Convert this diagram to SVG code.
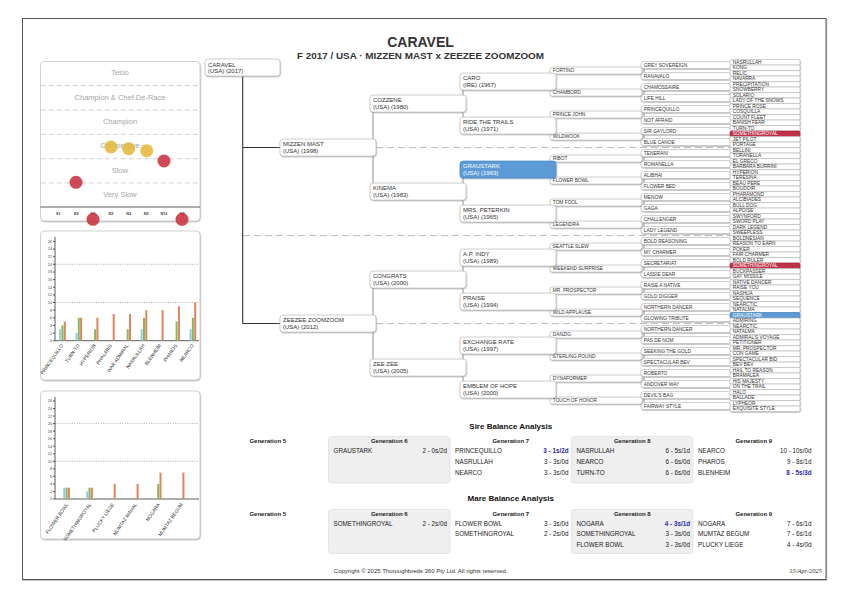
<svg xmlns="http://www.w3.org/2000/svg" width="841" height="595" viewBox="0 0 841 595">
<style>
text{font-family:"Liberation Sans",Arial,Helvetica,sans-serif;fill:#333}
.bx{fill:#fff;stroke:#bcbcbc;stroke-width:.7;filter:url(#ds)}
.red{fill:#c0304a;stroke:#a82840}
.blu{fill:#5b9bd5;stroke:#4a8ac4}
.wt{fill:#fff}
.t1{font-size:6px}
.t6{font-size:4.8px}
.conD{fill:none;stroke:#333;stroke-width:1.1}
.conG{fill:none;stroke:#999;stroke-width:1.1}
.dash{fill:none;stroke:#aaa;stroke-width:.8;stroke-dasharray:7 4}
.panel{fill:#efefef;stroke:#dcdcdc;stroke-width:.7}
.cbox{fill:#fff;stroke:#c8c8c8;stroke-width:.8;filter:url(#ds)}
.rt{font-size:7.5px;fill:#a6a6a6;text-anchor:middle}
.gl{fill:none;stroke:#bbb;stroke-width:.7;stroke-dasharray:4.5 3.5}
.ax{fill:none;stroke:#333;stroke-width:.8}
.dot{fill:none;stroke:#888;stroke-width:.6;stroke-dasharray:1.2 1.2}
.tk{font-size:3.8px;fill:#444;text-anchor:end}
.xl{font-size:3.8px;fill:#444;text-anchor:middle;font-weight:bold}
.bl{font-size:4.8px;fill:#333;text-anchor:end}
.bB{fill:#8ecbe6}
.bG{fill:#8ab565}
.bO{fill:#e0845a}
.h{font-size:6px;font-weight:bold;text-anchor:middle;fill:#222}
.r{font-size:6.3px;fill:#222}
.v{font-size:6.3px;fill:#222;text-anchor:end}
.vb{font-size:6.3px;fill:#2a2aa8;text-anchor:end;font-weight:bold}
.st{font-size:8px;font-weight:bold;text-anchor:middle;fill:#111}
</style>
<defs>
<filter id="ds" x="-10%" y="-30%" width="120%" height="170%">
<feDropShadow dx="0.5" dy="0.8" stdDeviation="0.4" flood-color="#777" flood-opacity="0.55"/>
</filter>
</defs>
<rect width="841" height="595" fill="#fff"/>
<rect x="22.5" y="18.5" width="803.5" height="561" fill="#fff" stroke="#555" stroke-width="1" filter="url(#ds)"/>

<g id="title">
<text x="420.5" y="46.5" text-anchor="middle" font-size="14" font-weight="bold" fill="#111">CARAVEL</text>
<text x="420.5" y="58.5" text-anchor="middle" font-size="9.9" font-weight="bold" fill="#111">F 2017 / USA · MIZZEN MAST x ZEEZEE ZOOMZOOM</text>
</g>

<!-- Chart 1: rating -->
<g id="chart-rating">
<rect class="cbox" x="40.5" y="61.5" width="159.5" height="159.5" rx="4"/>
<text class="rt" x="120" y="74.7">Tesio</text>
<text class="rt" x="120" y="100.4">Champion &amp; Chef De-Race</text>
<text class="rt" x="120" y="124.3">Champion</text>
<text class="rt" x="120" y="148">Competitive</text>
<text class="rt" x="120" y="172.7">Slow</text>
<text class="rt" x="120" y="196.7">Very Slow</text>
<path class="gl" d="M41 85.7H200M41 110H200M41 134.3H200M41 158.7H200M41 182.9H200"/>
<path class="ax" d="M40.5 207H200"/>
<text class="xl" x="58.3" y="215">S1</text>
<text class="xl" x="76.3" y="215">E9</text>
<text class="xl" x="93.3" y="215">N1</text>
<text class="xl" x="111" y="215">N2</text>
<text class="xl" x="128.7" y="215">N3</text>
<text class="xl" x="146.3" y="215">N5</text>
<text class="xl" x="164" y="215">N12</text>
<text class="xl" x="182.3" y="215">N4</text>
<g fill-opacity="0.88">
<circle cx="76" cy="182.3" r="6.5" fill="#c8303f"/>
<circle cx="111" cy="147" r="6.5" fill="#e6b83b"/>
<circle cx="128.7" cy="148.7" r="6.5" fill="#e6b83b"/>
<circle cx="146.7" cy="150.7" r="6.5" fill="#e6b83b"/>
<circle cx="164" cy="161" r="6.5" fill="#c8303f"/>
<circle cx="93" cy="219.3" r="6.5" fill="#c8303f"/>
<circle cx="182" cy="219.3" r="6.5" fill="#c8303f"/>
</g>
</g>

<!-- Chart 2: sire bars -->
<g id="chart-sires">
<rect class="cbox" x="40.5" y="231" width="159.5" height="149" rx="4"/>
<path class="dot" d="M55 264.3H199M55 302.5H199"/>
<path class="ax" d="M55 237V340.7H199M53 340.7H55M53 333.06H55M53 325.42H55M53 317.78H55M53 310.14H55M53 302.5H55M53 294.86H55M53 287.22H55M53 279.58H55M53 271.94H55M53 264.3H55M53 256.66H55M53 249.02H55M53 241.38H55"/>
<text class="tk" x="52" y="342.1">0</text>
<text class="tk" x="52" y="334.5">2</text>
<text class="tk" x="52" y="326.8">4</text>
<text class="tk" x="52" y="319.2">6</text>
<text class="tk" x="52" y="311.5">8</text>
<text class="tk" x="52" y="303.9">10</text>
<text class="tk" x="52" y="296.3">12</text>
<text class="tk" x="52" y="288.6">14</text>
<text class="tk" x="52" y="281">16</text>
<text class="tk" x="52" y="273.3">18</text>
<text class="tk" x="52" y="265.7">20</text>
<text class="tk" x="52" y="258.1">22</text>
<text class="tk" x="52" y="250.4">24</text>
<text class="tk" x="52" y="242.8">26</text>
<rect class="bB" x="59.2" y="329.24" width="2" height="11.46"/>
<rect class="bG" x="61.5" y="325.42" width="2" height="15.28"/>
<rect class="bO" x="63.8" y="321.6" width="2" height="19.1"/>
<rect class="bB" x="75.5" y="333.06" width="2" height="7.64"/>
<rect class="bG" x="77.8" y="317.78" width="2" height="22.92"/>
<rect class="bO" x="80.1" y="317.78" width="2" height="22.92"/>
<rect class="bG" x="94.1" y="329.24" width="2" height="11.46"/>
<rect class="bO" x="96.4" y="317.78" width="2" height="22.92"/>
<rect class="bO" x="112.7" y="313.96" width="2" height="26.74"/>
<rect class="bG" x="126.7" y="329.24" width="2" height="11.46"/>
<rect class="bO" x="129" y="313.96" width="2" height="26.74"/>
<rect class="bB" x="140.7" y="329.24" width="2" height="11.46"/>
<rect class="bG" x="143" y="317.78" width="2" height="22.92"/>
<rect class="bO" x="145.3" y="310.14" width="2" height="30.56"/>
<rect class="bO" x="161.6" y="310.14" width="2" height="30.56"/>
<rect class="bG" x="175.6" y="321.6" width="2" height="19.1"/>
<rect class="bO" x="177.9" y="306.32" width="2" height="34.38"/>
<rect class="bB" x="189.6" y="329.24" width="2" height="11.46"/>
<rect class="bG" x="191.9" y="317.78" width="2" height="22.92"/>
<rect class="bO" x="194.2" y="302.5" width="2" height="38.2"/>
<text class="bl" transform="translate(63.5,345.5) rotate(-55)">PRINCEQUILLO</text>
<text class="bl" transform="translate(79.8,345.5) rotate(-55)">TURN-TO</text>
<text class="bl" transform="translate(96.1,345.5) rotate(-55)">HYPERION</text>
<text class="bl" transform="translate(112.4,345.5) rotate(-55)">PHALARIS</text>
<text class="bl" transform="translate(128.7,345.5) rotate(-55)">WAR ADMIRAL</text>
<text class="bl" transform="translate(145,345.5) rotate(-55)">NASRULLAH</text>
<text class="bl" transform="translate(161.3,345.5) rotate(-55)">BLENHEIM</text>
<text class="bl" transform="translate(177.6,345.5) rotate(-55)">PHAROS</text>
<text class="bl" transform="translate(193.9,345.5) rotate(-55)">NEARCO</text>
</g>

<!-- Chart 3: mare bars -->
<g id="chart-mares">
<rect class="cbox" x="40.5" y="391" width="159.5" height="148" rx="4"/>
<path class="dot" d="M55 423.6H199M55 461.3H199"/>
<path class="ax" d="M55 397V499H199M53 499H55M53 491.46H55M53 483.92H55M53 476.38H55M53 468.84H55M53 461.3H55M53 453.76H55M53 446.22H55M53 438.68H55M53 431.14H55M53 423.6H55M53 416.06H55M53 408.52H55M53 400.98H55"/>
<text class="tk" x="52" y="500.4">0</text>
<text class="tk" x="52" y="492.9">2</text>
<text class="tk" x="52" y="485.3">4</text>
<text class="tk" x="52" y="477.8">6</text>
<text class="tk" x="52" y="470.2">8</text>
<text class="tk" x="52" y="462.7">10</text>
<text class="tk" x="52" y="455.2">12</text>
<text class="tk" x="52" y="447.6">14</text>
<text class="tk" x="52" y="440.1">16</text>
<text class="tk" x="52" y="432.5">18</text>
<text class="tk" x="52" y="425">20</text>
<text class="tk" x="52" y="417.5">22</text>
<text class="tk" x="52" y="409.9">24</text>
<text class="tk" x="52" y="402.4">26</text>
<rect class="bB" x="63.3" y="487.69" width="2" height="11.31"/>
<rect class="bG" x="65.6" y="487.69" width="2" height="11.31"/>
<rect class="bO" x="67.9" y="487.69" width="2" height="11.31"/>
<rect class="bB" x="86.2" y="491.46" width="2" height="7.54"/>
<rect class="bG" x="88.5" y="487.69" width="2" height="11.31"/>
<rect class="bO" x="90.8" y="487.69" width="2" height="11.31"/>
<rect class="bO" x="113.7" y="483.92" width="2" height="15.08"/>
<rect class="bO" x="136.6" y="483.92" width="2" height="15.08"/>
<rect class="bG" x="157.2" y="483.92" width="2" height="15.08"/>
<rect class="bO" x="159.5" y="472.61" width="2" height="26.39"/>
<rect class="bO" x="182.4" y="472.61" width="2" height="26.39"/>
<text class="bl" transform="translate(68.6,504.5) rotate(-55)">FLOWER BOWL</text>
<text class="bl" transform="translate(91.5,504.5) rotate(-55)">SOMETHINGROYAL</text>
<text class="bl" transform="translate(114.4,504.5) rotate(-55)">PLUCKY LIEGE</text>
<text class="bl" transform="translate(137.3,504.5) rotate(-55)">MUMTAZ MAHAL</text>
<text class="bl" transform="translate(160.2,504.5) rotate(-55)">NOGARA</text>
<text class="bl" transform="translate(183.1,504.5) rotate(-55)">MUMTAZ BEGUM</text>
</g>

<!-- Connectors -->
<g id="connectors">
<path class="dash" d="M376 147.55H730M243 235.55H730M376 323.55H730"/>
<path class="conD" d="M242.7 76V323.55M242.7 147.55H280M242.7 323.55H280"/>
<path class="conG" d="M373 112.05V183.05M373 288.05V359.05M463 90.05V117.05M463 178.05V205.05M463 266.05V293.05M463 354.05V381.05M553 74.05V89.05M553 118.05V133.05M553 162.05V177.05M553 206.05V221.05M553 250.05V265.05M553 294.05V309.05M553 338.05V353.05M553 382.05V397.05"/>
<path class="conG" d="M644 68.55V72.55M644 90.55V94.55M644 112.55V116.55M644 134.55V138.55M644 156.55V160.55M644 178.55V182.55M644 200.55V204.55M644 222.55V226.55M644 244.55V248.55M644 266.55V270.55M644 288.55V292.55M644 310.55V314.55M644 332.55V336.55M644 354.55V358.55M644 376.55V380.55M644 398.55V402.55"/>
</g>

<!-- Generation 5 -->
<g id="gen5">
<g id="g5-0" transform="translate(641,61.55)"><rect class="bx" width="90" height="7" rx="2.5"/><text class="t6" x="2.8" y="5.2">GREY SOVEREIGN</text></g>
<g id="g5-1" transform="translate(641,72.55)"><rect class="bx" width="90" height="7" rx="2.5"/><text class="t6" x="2.8" y="5.2">RANAVALO</text></g>
<g id="g5-2" transform="translate(641,83.55)"><rect class="bx" width="90" height="7" rx="2.5"/><text class="t6" x="2.8" y="5.2">CHAMOSSAIRE</text></g>
<g id="g5-3" transform="translate(641,94.55)"><rect class="bx" width="90" height="7" rx="2.5"/><text class="t6" x="2.8" y="5.2">LIFE HILL</text></g>
<g id="g5-4" transform="translate(641,105.55)"><rect class="bx" width="90" height="7" rx="2.5"/><text class="t6" x="2.8" y="5.2">PRINCEQUILLO</text></g>
<g id="g5-5" transform="translate(641,116.55)"><rect class="bx" width="90" height="7" rx="2.5"/><text class="t6" x="2.8" y="5.2">NOT AFRAID</text></g>
<g id="g5-6" transform="translate(641,127.55)"><rect class="bx" width="90" height="7" rx="2.5"/><text class="t6" x="2.8" y="5.2">SIR GAYLORD</text></g>
<g id="g5-7" transform="translate(641,138.55)"><rect class="bx" width="90" height="7" rx="2.5"/><text class="t6" x="2.8" y="5.2">BLUE CANOE</text></g>
<g id="g5-8" transform="translate(641,149.55)"><rect class="bx" width="90" height="7" rx="2.5"/><text class="t6" x="2.8" y="5.2">TENERANI</text></g>
<g id="g5-9" transform="translate(641,160.55)"><rect class="bx" width="90" height="7" rx="2.5"/><text class="t6" x="2.8" y="5.2">ROMANELLA</text></g>
<g id="g5-10" transform="translate(641,171.55)"><rect class="bx" width="90" height="7" rx="2.5"/><text class="t6" x="2.8" y="5.2">ALIBHAI</text></g>
<g id="g5-11" transform="translate(641,182.55)"><rect class="bx" width="90" height="7" rx="2.5"/><text class="t6" x="2.8" y="5.2">FLOWER BED</text></g>
<g id="g5-12" transform="translate(641,193.55)"><rect class="bx" width="90" height="7" rx="2.5"/><text class="t6" x="2.8" y="5.2">MENOW</text></g>
<g id="g5-13" transform="translate(641,204.55)"><rect class="bx" width="90" height="7" rx="2.5"/><text class="t6" x="2.8" y="5.2">GAGA</text></g>
<g id="g5-14" transform="translate(641,215.55)"><rect class="bx" width="90" height="7" rx="2.5"/><text class="t6" x="2.8" y="5.2">CHALLENGER</text></g>
<g id="g5-15" transform="translate(641,226.55)"><rect class="bx" width="90" height="7" rx="2.5"/><text class="t6" x="2.8" y="5.2">LADY LEGEND</text></g>
<g id="g5-16" transform="translate(641,237.55)"><rect class="bx" width="90" height="7" rx="2.5"/><text class="t6" x="2.8" y="5.2">BOLD REASONING</text></g>
<g id="g5-17" transform="translate(641,248.55)"><rect class="bx" width="90" height="7" rx="2.5"/><text class="t6" x="2.8" y="5.2">MY CHARMER</text></g>
<g id="g5-18" transform="translate(641,259.55)"><rect class="bx" width="90" height="7" rx="2.5"/><text class="t6" x="2.8" y="5.2">SECRETARIAT</text></g>
<g id="g5-19" transform="translate(641,270.55)"><rect class="bx" width="90" height="7" rx="2.5"/><text class="t6" x="2.8" y="5.2">LASSIE DEAR</text></g>
<g id="g5-20" transform="translate(641,281.55)"><rect class="bx" width="90" height="7" rx="2.5"/><text class="t6" x="2.8" y="5.2">RAISE A NATIVE</text></g>
<g id="g5-21" transform="translate(641,292.55)"><rect class="bx" width="90" height="7" rx="2.5"/><text class="t6" x="2.8" y="5.2">GOLD DIGGER</text></g>
<g id="g5-22" transform="translate(641,303.55)"><rect class="bx" width="90" height="7" rx="2.5"/><text class="t6" x="2.8" y="5.2">NORTHERN DANCER</text></g>
<g id="g5-23" transform="translate(641,314.55)"><rect class="bx" width="90" height="7" rx="2.5"/><text class="t6" x="2.8" y="5.2">GLOWING TRIBUTE</text></g>
<g id="g5-24" transform="translate(641,325.55)"><rect class="bx" width="90" height="7" rx="2.5"/><text class="t6" x="2.8" y="5.2">NORTHERN DANCER</text></g>
<g id="g5-25" transform="translate(641,336.55)"><rect class="bx" width="90" height="7" rx="2.5"/><text class="t6" x="2.8" y="5.2">PAS DE NOM</text></g>
<g id="g5-26" transform="translate(641,347.55)"><rect class="bx" width="90" height="7" rx="2.5"/><text class="t6" x="2.8" y="5.2">SEEKING THE GOLD</text></g>
<g id="g5-27" transform="translate(641,358.55)"><rect class="bx" width="90" height="7" rx="2.5"/><text class="t6" x="2.8" y="5.2">SPECTACULAR BEV</text></g>
<g id="g5-28" transform="translate(641,369.55)"><rect class="bx" width="90" height="7" rx="2.5"/><text class="t6" x="2.8" y="5.2">ROBERTO</text></g>
<g id="g5-29" transform="translate(641,380.55)"><rect class="bx" width="90" height="7" rx="2.5"/><text class="t6" x="2.8" y="5.2">ANDOVER WAY</text></g>
<g id="g5-30" transform="translate(641,391.55)"><rect class="bx" width="90" height="7" rx="2.5"/><text class="t6" x="2.8" y="5.2">DEVIL'S BAG</text></g>
<g id="g5-31" transform="translate(641,402.55)"><rect class="bx" width="90" height="7" rx="2.5"/><text class="t6" x="2.8" y="5.2">FAIRWAY STYLE</text></g>
</g>

<!-- Generation 6 -->
<g id="gen6">
<g id="g6-0" transform="translate(730,59.55)"><rect class="bx" width="70" height="5.5" rx="1.5"/><text class="t6" x="2.8" y="4.4">NASRULLAH</text></g>
<g id="g6-1" transform="translate(730,65.05)"><rect class="bx" width="70" height="5.5" rx="1.5"/><text class="t6" x="2.8" y="4.4">KONG</text></g>
<g id="g6-2" transform="translate(730,70.55)"><rect class="bx" width="70" height="5.5" rx="1.5"/><text class="t6" x="2.8" y="4.4">RELIC</text></g>
<g id="g6-3" transform="translate(730,76.05)"><rect class="bx" width="70" height="5.5" rx="1.5"/><text class="t6" x="2.8" y="4.4">NAVARRA</text></g>
<g id="g6-4" transform="translate(730,81.55)"><rect class="bx" width="70" height="5.5" rx="1.5"/><text class="t6" x="2.8" y="4.4">PRECIPITATION</text></g>
<g id="g6-5" transform="translate(730,87.05)"><rect class="bx" width="70" height="5.5" rx="1.5"/><text class="t6" x="2.8" y="4.4">SNOWBERRY</text></g>
<g id="g6-6" transform="translate(730,92.55)"><rect class="bx" width="70" height="5.5" rx="1.5"/><text class="t6" x="2.8" y="4.4">SOLARIO</text></g>
<g id="g6-7" transform="translate(730,98.05)"><rect class="bx" width="70" height="5.5" rx="1.5"/><text class="t6" x="2.8" y="4.4">LADY OF THE SNOWS</text></g>
<g id="g6-8" transform="translate(730,103.55)"><rect class="bx" width="70" height="5.5" rx="1.5"/><text class="t6" x="2.8" y="4.4">PRINCE ROSE</text></g>
<g id="g6-9" transform="translate(730,109.05)"><rect class="bx" width="70" height="5.5" rx="1.5"/><text class="t6" x="2.8" y="4.4">COSQUILLA</text></g>
<g id="g6-10" transform="translate(730,114.55)"><rect class="bx" width="70" height="5.5" rx="1.5"/><text class="t6" x="2.8" y="4.4">COUNT FLEET</text></g>
<g id="g6-11" transform="translate(730,120.05)"><rect class="bx" width="70" height="5.5" rx="1.5"/><text class="t6" x="2.8" y="4.4">BANISH FEAR</text></g>
<g id="g6-12" transform="translate(730,125.55)"><rect class="bx" width="70" height="5.5" rx="1.5"/><text class="t6" x="2.8" y="4.4">TURN-TO</text></g>
<g id="g6-13" transform="translate(730,131.05)"><rect class="bx red" width="70" height="5.5" rx="1.5"/><text class="t6 wt" x="2.8" y="4.4">SOMETHINGROYAL</text></g>
<g id="g6-14" transform="translate(730,136.55)"><rect class="bx" width="70" height="5.5" rx="1.5"/><text class="t6" x="2.8" y="4.4">JET PILOT</text></g>
<g id="g6-15" transform="translate(730,142.05)"><rect class="bx" width="70" height="5.5" rx="1.5"/><text class="t6" x="2.8" y="4.4">PORTAGE</text></g>
<g id="g6-16" transform="translate(730,147.55)"><rect class="bx" width="70" height="5.5" rx="1.5"/><text class="t6" x="2.8" y="4.4">BELLINI</text></g>
<g id="g6-17" transform="translate(730,153.05)"><rect class="bx" width="70" height="5.5" rx="1.5"/><text class="t6" x="2.8" y="4.4">TORANELLA</text></g>
<g id="g6-18" transform="translate(730,158.55)"><rect class="bx" width="70" height="5.5" rx="1.5"/><text class="t6" x="2.8" y="4.4">EL GRECO</text></g>
<g id="g6-19" transform="translate(730,164.05)"><rect class="bx" width="70" height="5.5" rx="1.5"/><text class="t6" x="2.8" y="4.4">BARBARA BURRINI</text></g>
<g id="g6-20" transform="translate(730,169.55)"><rect class="bx" width="70" height="5.5" rx="1.5"/><text class="t6" x="2.8" y="4.4">HYPERION</text></g>
<g id="g6-21" transform="translate(730,175.05)"><rect class="bx" width="70" height="5.5" rx="1.5"/><text class="t6" x="2.8" y="4.4">TERESINA</text></g>
<g id="g6-22" transform="translate(730,180.55)"><rect class="bx" width="70" height="5.5" rx="1.5"/><text class="t6" x="2.8" y="4.4">BEAU PERE</text></g>
<g id="g6-23" transform="translate(730,186.05)"><rect class="bx" width="70" height="5.5" rx="1.5"/><text class="t6" x="2.8" y="4.4">BOUDOIR</text></g>
<g id="g6-24" transform="translate(730,191.55)"><rect class="bx" width="70" height="5.5" rx="1.5"/><text class="t6" x="2.8" y="4.4">PHARAMOND</text></g>
<g id="g6-25" transform="translate(730,197.05)"><rect class="bx" width="70" height="5.5" rx="1.5"/><text class="t6" x="2.8" y="4.4">ALCIBIADES</text></g>
<g id="g6-26" transform="translate(730,202.55)"><rect class="bx" width="70" height="5.5" rx="1.5"/><text class="t6" x="2.8" y="4.4">BULL DOG</text></g>
<g id="g6-27" transform="translate(730,208.05)"><rect class="bx" width="70" height="5.5" rx="1.5"/><text class="t6" x="2.8" y="4.4">ALPOISE</text></g>
<g id="g6-28" transform="translate(730,213.55)"><rect class="bx" width="70" height="5.5" rx="1.5"/><text class="t6" x="2.8" y="4.4">SWYNFORD</text></g>
<g id="g6-29" transform="translate(730,219.05)"><rect class="bx" width="70" height="5.5" rx="1.5"/><text class="t6" x="2.8" y="4.4">SWORD PLAY</text></g>
<g id="g6-30" transform="translate(730,224.55)"><rect class="bx" width="70" height="5.5" rx="1.5"/><text class="t6" x="2.8" y="4.4">DARK LEGEND</text></g>
<g id="g6-31" transform="translate(730,230.05)"><rect class="bx" width="70" height="5.5" rx="1.5"/><text class="t6" x="2.8" y="4.4">SWEEPLESS</text></g>
<g id="g6-32" transform="translate(730,235.55)"><rect class="bx" width="70" height="5.5" rx="1.5"/><text class="t6" x="2.8" y="4.4">BOLDNESIAN</text></g>
<g id="g6-33" transform="translate(730,241.05)"><rect class="bx" width="70" height="5.5" rx="1.5"/><text class="t6" x="2.8" y="4.4">REASON TO EARN</text></g>
<g id="g6-34" transform="translate(730,246.55)"><rect class="bx" width="70" height="5.5" rx="1.5"/><text class="t6" x="2.8" y="4.4">POKER</text></g>
<g id="g6-35" transform="translate(730,252.05)"><rect class="bx" width="70" height="5.5" rx="1.5"/><text class="t6" x="2.8" y="4.4">FAIR CHARMER</text></g>
<g id="g6-36" transform="translate(730,257.55)"><rect class="bx" width="70" height="5.5" rx="1.5"/><text class="t6" x="2.8" y="4.4">BOLD RULER</text></g>
<g id="g6-37" transform="translate(730,263.05)"><rect class="bx red" width="70" height="5.5" rx="1.5"/><text class="t6 wt" x="2.8" y="4.4">SOMETHINGROYAL</text></g>
<g id="g6-38" transform="translate(730,268.55)"><rect class="bx" width="70" height="5.5" rx="1.5"/><text class="t6" x="2.8" y="4.4">BUCKPASSER</text></g>
<g id="g6-39" transform="translate(730,274.05)"><rect class="bx" width="70" height="5.5" rx="1.5"/><text class="t6" x="2.8" y="4.4">GAY MISSILE</text></g>
<g id="g6-40" transform="translate(730,279.55)"><rect class="bx" width="70" height="5.5" rx="1.5"/><text class="t6" x="2.8" y="4.4">NATIVE DANCER</text></g>
<g id="g6-41" transform="translate(730,285.05)"><rect class="bx" width="70" height="5.5" rx="1.5"/><text class="t6" x="2.8" y="4.4">RAISE YOU</text></g>
<g id="g6-42" transform="translate(730,290.55)"><rect class="bx" width="70" height="5.5" rx="1.5"/><text class="t6" x="2.8" y="4.4">NASHUA</text></g>
<g id="g6-43" transform="translate(730,296.05)"><rect class="bx" width="70" height="5.5" rx="1.5"/><text class="t6" x="2.8" y="4.4">SEQUENCE</text></g>
<g id="g6-44" transform="translate(730,301.55)"><rect class="bx" width="70" height="5.5" rx="1.5"/><text class="t6" x="2.8" y="4.4">NEARCTIC</text></g>
<g id="g6-45" transform="translate(730,307.05)"><rect class="bx" width="70" height="5.5" rx="1.5"/><text class="t6" x="2.8" y="4.4">NATALMA</text></g>
<g id="g6-46" transform="translate(730,312.55)"><rect class="bx blu" width="70" height="5.5" rx="1.5"/><text class="t6 wt" x="2.8" y="4.4">GRAUSTARK</text></g>
<g id="g6-47" transform="translate(730,318.05)"><rect class="bx" width="70" height="5.5" rx="1.5"/><text class="t6" x="2.8" y="4.4">ADMIRING</text></g>
<g id="g6-48" transform="translate(730,323.55)"><rect class="bx" width="70" height="5.5" rx="1.5"/><text class="t6" x="2.8" y="4.4">NEARCTIC</text></g>
<g id="g6-49" transform="translate(730,329.05)"><rect class="bx" width="70" height="5.5" rx="1.5"/><text class="t6" x="2.8" y="4.4">NATALMA</text></g>
<g id="g6-50" transform="translate(730,334.55)"><rect class="bx" width="70" height="5.5" rx="1.5"/><text class="t6" x="2.8" y="4.4">ADMIRAL'S VOYAGE</text></g>
<g id="g6-51" transform="translate(730,340.05)"><rect class="bx" width="70" height="5.5" rx="1.5"/><text class="t6" x="2.8" y="4.4">PETITIONER</text></g>
<g id="g6-52" transform="translate(730,345.55)"><rect class="bx" width="70" height="5.5" rx="1.5"/><text class="t6" x="2.8" y="4.4">MR. PROSPECTOR</text></g>
<g id="g6-53" transform="translate(730,351.05)"><rect class="bx" width="70" height="5.5" rx="1.5"/><text class="t6" x="2.8" y="4.4">CON GAME</text></g>
<g id="g6-54" transform="translate(730,356.55)"><rect class="bx" width="70" height="5.5" rx="1.5"/><text class="t6" x="2.8" y="4.4">SPECTACULAR BID</text></g>
<g id="g6-55" transform="translate(730,362.05)"><rect class="bx" width="70" height="5.5" rx="1.5"/><text class="t6" x="2.8" y="4.4">BEV BEV</text></g>
<g id="g6-56" transform="translate(730,367.55)"><rect class="bx" width="70" height="5.5" rx="1.5"/><text class="t6" x="2.8" y="4.4">HAIL TO REASON</text></g>
<g id="g6-57" transform="translate(730,373.05)"><rect class="bx" width="70" height="5.5" rx="1.5"/><text class="t6" x="2.8" y="4.4">BRAMALEA</text></g>
<g id="g6-58" transform="translate(730,378.55)"><rect class="bx" width="70" height="5.5" rx="1.5"/><text class="t6" x="2.8" y="4.4">HIS MAJESTY</text></g>
<g id="g6-59" transform="translate(730,384.05)"><rect class="bx" width="70" height="5.5" rx="1.5"/><text class="t6" x="2.8" y="4.4">ON THE TRAIL</text></g>
<g id="g6-60" transform="translate(730,389.55)"><rect class="bx" width="70" height="5.5" rx="1.5"/><text class="t6" x="2.8" y="4.4">HALO</text></g>
<g id="g6-61" transform="translate(730,395.05)"><rect class="bx" width="70" height="5.5" rx="1.5"/><text class="t6" x="2.8" y="4.4">BALLADE</text></g>
<g id="g6-62" transform="translate(730,400.55)"><rect class="bx" width="70" height="5.5" rx="1.5"/><text class="t6" x="2.8" y="4.4">LYPHEOR</text></g>
<g id="g6-63" transform="translate(730,406.05)"><rect class="bx" width="70" height="5.5" rx="1.5"/><text class="t6" x="2.8" y="4.4">EXQUISITE STYLE</text></g>
</g>

<!-- Generation 4 -->
<g id="gen4">
<g id="g4-0" transform="translate(550,67.05)"><rect class="bx" width="92" height="7" rx="2.5"/><text class="t6" x="2.8" y="5.2">FORTINO</text></g>
<g id="g4-1" transform="translate(550,89.05)"><rect class="bx" width="92" height="7" rx="2.5"/><text class="t6" x="2.8" y="5.2">CHAMBORD</text></g>
<g id="g4-2" transform="translate(550,111.05)"><rect class="bx" width="92" height="7" rx="2.5"/><text class="t6" x="2.8" y="5.2">PRINCE JOHN</text></g>
<g id="g4-3" transform="translate(550,133.05)"><rect class="bx" width="92" height="7" rx="2.5"/><text class="t6" x="2.8" y="5.2">WILDWOOK</text></g>
<g id="g4-4" transform="translate(550,155.05)"><rect class="bx" width="92" height="7" rx="2.5"/><text class="t6" x="2.8" y="5.2">RIBOT</text></g>
<g id="g4-5" transform="translate(550,177.05)"><rect class="bx" width="92" height="7" rx="2.5"/><text class="t6" x="2.8" y="5.2">FLOWER BOWL</text></g>
<g id="g4-6" transform="translate(550,199.05)"><rect class="bx" width="92" height="7" rx="2.5"/><text class="t6" x="2.8" y="5.2">TOM FOOL</text></g>
<g id="g4-7" transform="translate(550,221.05)"><rect class="bx" width="92" height="7" rx="2.5"/><text class="t6" x="2.8" y="5.2">LEGENDRA</text></g>
<g id="g4-8" transform="translate(550,243.05)"><rect class="bx" width="92" height="7" rx="2.5"/><text class="t6" x="2.8" y="5.2">SEATTLE SLEW</text></g>
<g id="g4-9" transform="translate(550,265.05)"><rect class="bx" width="92" height="7" rx="2.5"/><text class="t6" x="2.8" y="5.2">WEEKEND SURPRISE</text></g>
<g id="g4-10" transform="translate(550,287.05)"><rect class="bx" width="92" height="7" rx="2.5"/><text class="t6" x="2.8" y="5.2">MR. PROSPECTOR</text></g>
<g id="g4-11" transform="translate(550,309.05)"><rect class="bx" width="92" height="7" rx="2.5"/><text class="t6" x="2.8" y="5.2">WILD APPLAUSE</text></g>
<g id="g4-12" transform="translate(550,331.05)"><rect class="bx" width="92" height="7" rx="2.5"/><text class="t6" x="2.8" y="5.2">DANZIG</text></g>
<g id="g4-13" transform="translate(550,353.05)"><rect class="bx" width="92" height="7" rx="2.5"/><text class="t6" x="2.8" y="5.2">STERLING POUND</text></g>
<g id="g4-14" transform="translate(550,375.05)"><rect class="bx" width="92" height="7" rx="2.5"/><text class="t6" x="2.8" y="5.2">DYNAFORMER</text></g>
<g id="g4-15" transform="translate(550,397.05)"><rect class="bx" width="92" height="7" rx="2.5"/><text class="t6" x="2.8" y="5.2">TOUCH OF HONOR</text></g>
</g>

<!-- Generation 3 -->
<g id="gen3">
<g id="g3-0" transform="translate(460,73.05)"><rect class="bx" width="96" height="17" rx="3"/><text class="t1" x="3" y="7">CARO</text><text class="t1" x="3" y="14">(IRE) (1967)</text></g>
<g id="g3-1" transform="translate(460,117.05)"><rect class="bx" width="96" height="17" rx="3"/><text class="t1" x="3" y="7">RIDE THE TRAILS</text><text class="t1" x="3" y="14">(USA) (1971)</text></g>
<g id="g3-2" transform="translate(460,161.05)"><rect class="bx blu" width="96" height="17" rx="3"/><text class="t1 wt" x="3" y="7">GRAUSTARK</text><text class="t1 wt" x="3" y="14">(USA) (1963)</text></g>
<g id="g3-3" transform="translate(460,205.05)"><rect class="bx" width="96" height="17" rx="3"/><text class="t1" x="3" y="7">MRS. PETERKIN</text><text class="t1" x="3" y="14">(USA) (1965)</text></g>
<g id="g3-4" transform="translate(460,249.05)"><rect class="bx" width="96" height="17" rx="3"/><text class="t1" x="3" y="7">A.P. INDY</text><text class="t1" x="3" y="14">(USA) (1989)</text></g>
<g id="g3-5" transform="translate(460,293.05)"><rect class="bx" width="96" height="17" rx="3"/><text class="t1" x="3" y="7">PRAISE</text><text class="t1" x="3" y="14">(USA) (1994)</text></g>
<g id="g3-6" transform="translate(460,337.05)"><rect class="bx" width="96" height="17" rx="3"/><text class="t1" x="3" y="7">EXCHANGE RATE</text><text class="t1" x="3" y="14">(USA) (1997)</text></g>
<g id="g3-7" transform="translate(460,381.05)"><rect class="bx" width="96" height="17" rx="3"/><text class="t1" x="3" y="7">EMBLEM OF HOPE</text><text class="t1" x="3" y="14">(USA) (2000)</text></g>
</g>

<!-- Generation 2 -->
<g id="gen2">
<g id="g2-0" transform="translate(370,95.05)"><rect class="bx" width="96" height="17" rx="3"/><text class="t1" x="3" y="7">COZZENE</text><text class="t1" x="3" y="14">(USA) (1980)</text></g>
<g id="g2-1" transform="translate(370,183.05)"><rect class="bx" width="96" height="17" rx="3"/><text class="t1" x="3" y="7">KINEMA</text><text class="t1" x="3" y="14">(USA) (1983)</text></g>
<g id="g2-2" transform="translate(370,271.05)"><rect class="bx" width="96" height="17" rx="3"/><text class="t1" x="3" y="7">CONGRATS</text><text class="t1" x="3" y="14">(USA) (2000)</text></g>
<g id="g2-3" transform="translate(370,359.05)"><rect class="bx" width="96" height="17" rx="3"/><text class="t1" x="3" y="7">ZEE ZEE</text><text class="t1" x="3" y="14">(USA) (2005)</text></g>
</g>

<!-- Generation 1 -->
<g id="gen1">
<g id="g1-0" transform="translate(280,139.05)"><rect class="bx" width="96" height="17" rx="3"/><text class="t1" x="3" y="7">MIZZEN MAST</text><text class="t1" x="3" y="14">(USA) (1998)</text></g>
<g id="g1-1" transform="translate(280,315.05)"><rect class="bx" width="96" height="17" rx="3"/><text class="t1" x="3" y="7">ZEEZEE ZOOMZOOM</text><text class="t1" x="3" y="14">(USA) (2012)</text></g>
</g>

<!-- Generation 0 -->
<g id="g0" transform="translate(205,59)"><rect class="bx" width="75" height="17" rx="3"/><text class="t1" x="3" y="7.5">CARAVEL</text><text class="t1" x="3" y="14.3">(USA) (2017)</text></g>

<!-- Sire balance -->
<g id="sire-balance">
<text class="st" x="510.75" y="428.5">Sire Balance Analysis</text>
<rect class="panel" x="328.5" y="436.5" width="121.5" height="46.5" rx="3"/>
<rect class="panel" x="571.5" y="436.5" width="121.5" height="46.5" rx="3"/>
<text class="h" x="267.75" y="443">Generation 5</text>
<text class="h" x="389.25" y="443">Generation 6</text>
<text class="h" x="510.75" y="443">Generation 7</text>
<text class="h" x="632.25" y="443">Generation 8</text>
<text class="h" x="753.75" y="443">Generation 9</text>
<text class="r" x="333.5" y="452.7">GRAUSTARK</text><text class="v" x="447" y="452.7">2 - 0s/2d</text>
<text class="r" x="455" y="452.7">PRINCEQUILLO</text><text class="vb" x="568.5" y="452.7">3 - 1s/2d</text>
<text class="r" x="455" y="463.7">NASRULLAH</text><text class="v" x="568.5" y="463.7">3 - 3s/0d</text>
<text class="r" x="455" y="474.7">NEARCO</text><text class="v" x="568.5" y="474.7">3 - 3s/0d</text>
<text class="r" x="576.5" y="452.7">NASRULLAH</text><text class="v" x="690" y="452.7">6 - 5s/1d</text>
<text class="r" x="576.5" y="463.7">NEARCO</text><text class="v" x="690" y="463.7">6 - 6s/0d</text>
<text class="r" x="576.5" y="474.7">TURN-TO</text><text class="v" x="690" y="474.7">6 - 6s/0d</text>
<text class="r" x="698" y="452.7">NEARCO</text><text class="v" x="811.5" y="452.7">10 - 10s/0d</text>
<text class="r" x="698" y="463.7">PHAROS</text><text class="v" x="811.5" y="463.7">9 - 8s/1d</text>
<text class="r" x="698" y="474.7">BLENHEIM</text><text class="vb" x="811.5" y="474.7">8 - 5s/3d</text>
</g>

<!-- Mare balance -->
<g id="mare-balance">
<text class="st" x="510.75" y="500.5">Mare Balance Analysis</text>
<rect class="panel" x="328.5" y="509.5" width="121.5" height="44" rx="3"/>
<rect class="panel" x="571.5" y="509.5" width="121.5" height="44" rx="3"/>
<text class="h" x="267.75" y="515.5">Generation 5</text>
<text class="h" x="389.25" y="515.5">Generation 6</text>
<text class="h" x="510.75" y="515.5">Generation 7</text>
<text class="h" x="632.25" y="515.5">Generation 8</text>
<text class="h" x="753.75" y="515.5">Generation 9</text>
<text class="r" x="333.5" y="525.5">SOMETHINGROYAL</text><text class="v" x="447" y="525.5">2 - 2s/0d</text>
<text class="r" x="455" y="525.5">FLOWER BOWL</text><text class="v" x="568.5" y="525.5">3 - 3s/0d</text>
<text class="r" x="455" y="536.3">SOMETHINGROYAL</text><text class="v" x="568.5" y="536.3">2 - 2s/0d</text>
<text class="r" x="576.5" y="525.5">NOGARA</text><text class="vb" x="690" y="525.5">4 - 3s/1d</text>
<text class="r" x="576.5" y="536.3">SOMETHINGROYAL</text><text class="v" x="690" y="536.3">3 - 3s/0d</text>
<text class="r" x="576.5" y="547">FLOWER BOWL</text><text class="v" x="690" y="547">3 - 3s/0d</text>
<text class="r" x="698" y="525.5">NOGARA</text><text class="v" x="811.5" y="525.5">7 - 6s/1d</text>
<text class="r" x="698" y="536.3">MUMTAZ BEGUM</text><text class="v" x="811.5" y="536.3">7 - 6s/1d</text>
<text class="r" x="698" y="547">PLUCKY LIEGE</text><text class="v" x="811.5" y="547">4 - 4s/0d</text>
</g>

<g id="footer">
<text x="333.8" y="573" font-size="6" fill="#333">Copyright © 2025 Thoroughbreds 360 Pty Ltd. All rights reserved.</text>
<text x="822" y="573" font-size="6.5" font-style="italic" text-anchor="end" style="font-family:'Liberation Serif','Times New Roman',serif">15/Apr/2025</text>
</g>
</svg>
